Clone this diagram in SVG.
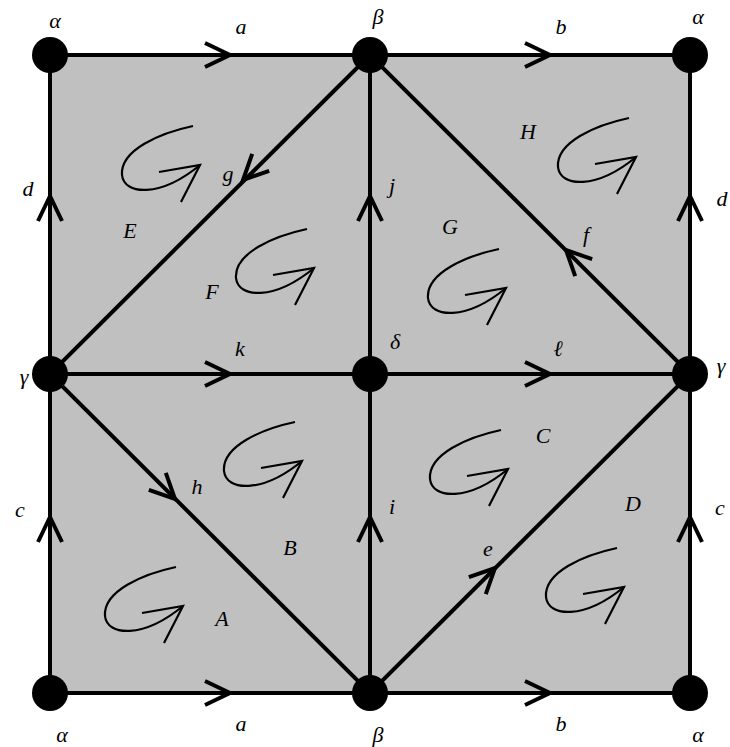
<svg xmlns="http://www.w3.org/2000/svg" width="730" height="747" viewBox="0 0 730 747">
<style>
.edge{stroke:#000;stroke-width:4;fill:none;stroke-linecap:butt}
.chev{stroke:#000;stroke-width:4;fill:none;stroke-linejoin:miter;stroke-miterlimit:10}
.curl{stroke:#000;stroke-width:2.2;fill:none;stroke-linecap:butt}
.lbl{font-family:"Liberation Serif","DejaVu Serif",serif;font-style:italic;font-size:22px;fill:#000;text-anchor:middle}
.node{fill:#000}
</style>
<defs>
<path id="chev" class="chev" d="M-25,-12 L0,0 L-25,12"/>
<g id="curl" class="curl">
<path d="M-7,-39 C-40,-32 -80,-15 -78,10 C-76,30 -40,33 0,0"/>
<path d="M-41,7 L0,0 L-19,37"/>
</g>
</defs>
<rect x="50" y="55" width="640" height="638" fill="#c0c0c0"/>
<g id="connectors">
<path class="edge" d="M50,55 H690 M50,374 H690 M50,693 H690 M50,55 V693 M370,55 V693 M690,55 V693"/>
<path class="edge" d="M370,55 L50,374 L370,693 L690,374 Z"/>
<use href="#chev" transform="translate(230,55)"/>
<use href="#chev" transform="translate(550,55)"/>
<use href="#chev" transform="translate(230,374)"/>
<use href="#chev" transform="translate(550,374)"/>
<use href="#chev" transform="translate(230,693)"/>
<use href="#chev" transform="translate(550,693)"/>
<use href="#chev" transform="translate(50,196) rotate(-90)"/>
<use href="#chev" transform="translate(370,196) rotate(-90)"/>
<use href="#chev" transform="translate(690,196) rotate(-90)"/>
<use href="#chev" transform="translate(50,517) rotate(-90)"/>
<use href="#chev" transform="translate(370,517) rotate(-90)"/>
<use href="#chev" transform="translate(690,517) rotate(-90)"/>
<use href="#chev" transform="translate(243,180) rotate(135)"/>
<use href="#chev" transform="translate(566,250) rotate(-135)"/>
<use href="#chev" transform="translate(175,499) rotate(45)"/>
<use href="#chev" transform="translate(495,568) rotate(-45)"/>
</g>
<g id="faces">
<use href="#curl" transform="translate(200,165)"/>
<use href="#curl" transform="translate(636,157)"/>
<use href="#curl" transform="translate(314,268)"/>
<use href="#curl" transform="translate(506,288)"/>
<use href="#curl" transform="translate(302,461)"/>
<use href="#curl" transform="translate(508,469)"/>
<use href="#curl" transform="translate(183,606)"/>
<use href="#curl" transform="translate(624,587)"/>
</g>
<g id="n-tl"><circle class="node" cx="50" cy="55" r="18"/><text class="lbl" x="55" y="28">α</text></g>
<g id="n-tm"><circle class="node" cx="370" cy="55" r="18"/><text class="lbl" x="378" y="24">β</text></g>
<g id="n-tr"><circle class="node" cx="690" cy="55" r="18"/><text class="lbl" x="698" y="24">α</text></g>
<g id="n-ml"><circle class="node" cx="50" cy="374" r="18"/><text class="lbl" x="24" y="384">γ</text></g>
<g id="n-mm"><circle class="node" cx="370" cy="374" r="18"/><text class="lbl" x="395" y="349">δ</text></g>
<g id="n-mr"><circle class="node" cx="690" cy="374" r="18"/><text class="lbl" x="721" y="373">γ</text></g>
<g id="n-bl"><circle class="node" cx="50" cy="693" r="18"/><text class="lbl" x="62" y="742">α</text></g>
<g id="n-bm"><circle class="node" cx="370" cy="693" r="18"/><text class="lbl" x="378" y="742">β</text></g>
<g id="n-br"><circle class="node" cx="690" cy="693" r="18"/><text class="lbl" x="698" y="742">α</text></g>
<g id="labels">
<text class="lbl" x="241" y="34">a</text>
<text class="lbl" x="561" y="34">b</text>
<text class="lbl" x="241" y="731">a</text>
<text class="lbl" x="561" y="731">b</text>
<text class="lbl" x="28" y="196">d</text>
<text class="lbl" x="722" y="206">d</text>
<text class="lbl" x="20" y="517">c</text>
<text class="lbl" x="720" y="515">c</text>
<text class="lbl" x="392" y="193">j</text>
<text class="lbl" x="392" y="514">i</text>
<text class="lbl" x="240" y="356">k</text>
<text class="lbl" x="558" y="356">ℓ</text>
<text class="lbl" x="228" y="181">g</text>
<text class="lbl" x="586" y="242">f</text>
<text class="lbl" x="197" y="494">h</text>
<text class="lbl" x="488" y="556">e</text>
<text class="lbl" x="130" y="238">E</text>
<text class="lbl" x="528" y="139">H</text>
<text class="lbl" x="450" y="234">G</text>
<text class="lbl" x="212" y="299">F</text>
<text class="lbl" x="543" y="443">C</text>
<text class="lbl" x="633" y="511">D</text>
<text class="lbl" x="290" y="555">B</text>
<text class="lbl" x="222" y="626">A</text>
</g>
</svg>
